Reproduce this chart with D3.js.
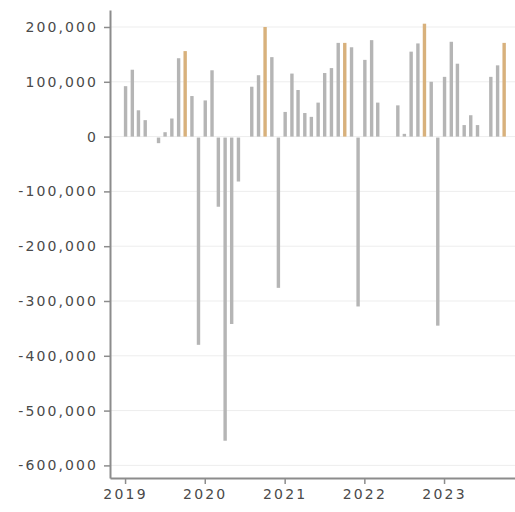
<!DOCTYPE html>
<html>
<head>
<meta charset="utf-8">
<script src="https://cdn.jsdelivr.net/npm/d3@7"></script>
<style>
  html, body { margin: 0; padding: 0; background: #fff; }
  svg { display: block; }
  text { font-family: "DejaVu Sans", sans-serif; }
</style>
</head>
<body>
<svg id="chart" width="515" height="512"></svg>
<script>
// ---- data (monthly values, Jan 2019 .. Oct 2023; null = no bar) ----
const startYear = 2019;
const values2019 = [92000, 122000, 48000, 30000, null, -12000, 8000, 33000, 143000, 156000, 74000, -380000];
const values2020 = [66000, 121000, -128000, -555000, -342000, -82000, null, 91000, 112000, 200000, 145000, -276000];
const values2021 = [45000, 115000, 85000, 43000, 36000, 62000, 116000, 125000, 171000, 171000, 163000, -310000];
const values2022 = [140000, 176000, 62000, null, null, 57000, 5000, 155000, 170000, 206000, 100000, -345000];
const values2023 = [109000, 173000, 133000, 21000, 39000, 21000, null, 109000, 130000, 171000];
const highlightMonth = 9; // October bars are highlighted
const yTicks = [200000, 100000, 0, -100000, -200000, -300000, -400000, -500000, -600000];
const xTickYears = [2019, 2020, 2021, 2022, 2023];

const allYears = [values2019, values2020, values2021, values2022, values2023];
const data = [];
allYears.forEach((arr, yi) => arr.forEach((v, m) => {
  if (v !== null) data.push({ date: new Date(startYear + yi, m, 1), month: m, value: v });
}));

// ---- layout ----
const svg = d3.select("#chart");
const mLeft = 110, mRight = 515, mTop = 10, mBottom = 478;

const x = d3.scaleTime()
  .domain([new Date(2018, 9, 24), new Date(2023, 10, 22)])
  .range([mLeft, mRight]);
const y = d3.scaleLinear()
  .domain([-623000, 231000])
  .range([mBottom, mTop]);

// gridlines
svg.append("g")
  .selectAll("line")
  .data(yTicks)
  .join("line")
  .attr("x1", mLeft).attr("x2", mRight)
  .attr("y1", d => y(d)).attr("y2", d => y(d))
  .attr("stroke", "#ededed").attr("stroke-width", 1);

// bars
const barW = 3.4;
svg.append("g")
  .selectAll("rect")
  .data(data)
  .join("rect")
  .attr("x", d => x(d.date) - barW / 2 + 0.5)
  .attr("width", barW)
  .attr("y", d => d.value >= 0 ? y(d.value) : y(0) + 1)
  .attr("height", d => Math.max(0.5, Math.abs(y(d.value) - y(0)) - (d.value < 0 ? 1 : 0)))
  .attr("fill", d => d.month === highlightMonth ? "#d8b17c" : "#b5b5b5");

// y axis
const locale = d3.formatLocale({ decimal: ".", thousands: ",", grouping: [3], currency: ["", ""], minus: "-" });
const fmt = locale.format(",");
const yAxis = svg.append("g")
  .attr("transform", `translate(${mLeft},0)`)
  .call(d3.axisLeft(y).tickValues(yTicks).tickFormat(fmt).tickSize(6).tickSizeOuter(0).tickPadding(6));
yAxis.select(".domain").attr("stroke", "#8c8c8c").attr("stroke-width", 2);
yAxis.selectAll(".tick line").attr("stroke", "#8c8c8c").attr("stroke-width", 1.5);
yAxis.selectAll(".tick text")
  .attr("fill", "#4a4a4a")
  .style("font-size", "14px")
  .style("letter-spacing", "2.1px");

// x axis
const xAxis = svg.append("g")
  .attr("transform", `translate(0,${mBottom})`)
  .call(d3.axisBottom(x)
    .tickValues(xTickYears.map(yr => new Date(yr, 0, 1)))
    .tickFormat(d3.timeFormat("%Y"))
    .tickSize(6).tickSizeOuter(0).tickPadding(5));
xAxis.select(".domain").attr("stroke", "#8c8c8c").attr("stroke-width", 2);
xAxis.selectAll(".tick line").attr("stroke", "#8c8c8c").attr("stroke-width", 1.5);
xAxis.selectAll(".tick text")
  .attr("fill", "#4a4a4a")
  .style("font-size", "14px")
  .style("letter-spacing", "2.2px");
</script>
</body>
</html>
